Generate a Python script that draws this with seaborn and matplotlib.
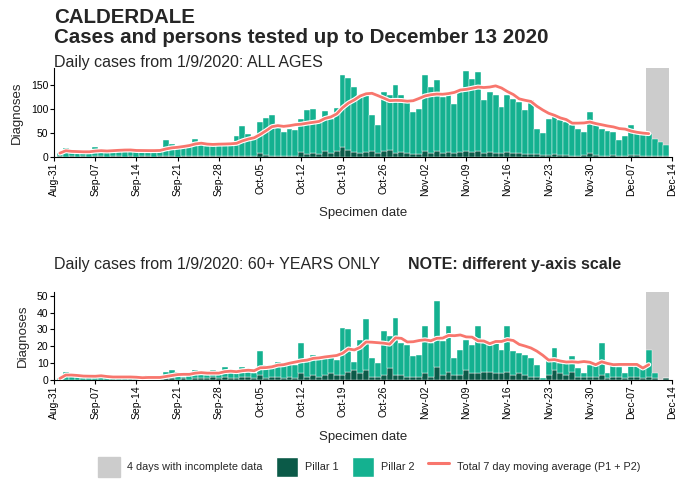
import matplotlib
matplotlib.use("Agg")
import matplotlib.pyplot as plt
import matplotlib.dates as mdates
import matplotlib.patheffects as pe
from matplotlib.patches import Patch
from matplotlib.lines import Line2D
import numpy as np
import pandas as pd
import seaborn as sns

# daily values 1 Sep 2020 .. 13 Dec 2020
dates = pd.date_range("2020-09-01", "2020-12-13", freq="D")

# all ages: total (P1 + P2) and pillar 1
all_total = [
    8, 18, 9, 10, 9, 11, 21, 14, 13, 14, 15, 13, 12, 14, 13, 12, 14, 17, 35, 28,
    22, 25, 26, 37, 28, 22, 23, 26, 27, 29,
    44, 64, 48, 42, 73, 82, 88, 60, 53, 58, 57, 80, 97, 100, 73, 96, 80, 101, 171, 165,
    146, 130, 128, 87, 67, 135, 128, 150, 128, 118, 94,
    100, 171, 146, 160, 125, 128, 111, 135, 180, 163, 177, 118, 135, 128, 104, 128, 120, 114, 97,
    118, 59, 49, 80, 90, 76, 73, 66, 59, 52, 94,
    67, 59, 55, 52, 35, 44, 66, 49, 47, 47, 37, 31, 25,
]
all_p1 = [
    1, 0, 1, 0, 1, 0, 2, 1, 0, 1, 1, 0, 1, 0, 1, 1, 0, 1, 2, 1,
    0, 3, 2, 2, 3, 1, 2, 2, 2, 3,
    2, 3, 2, 2, 9, 4, 3, 2, 2, 3, 2, 10, 7, 8, 6, 12, 8, 13, 21, 14,
    10, 8, 10, 12, 8, 12, 14, 9, 10, 8, 7,
    6, 12, 8, 12, 8, 10, 8, 10, 12, 11, 13, 8, 10, 9, 8, 10, 9, 8, 7,
    7, 6, 4, 5, 7, 5, 4, 3, 3, 4, 8,
    4, 3, 3, 4, 2, 3, 5, 4, 3, 2, 2, 1, 1,
]

# 60+ years: total (P1 + P2) and pillar 1
old_total = [
    1, 5, 3, 2, 1, 2, 2, 3, 2, 1, 2, 1, 2, 1, 1, 3, 1, 2, 5, 6,
    5, 2, 3, 6, 4, 3, 6, 5, 8, 5,
    4, 8, 5, 4, 17, 9, 8, 11, 10, 11, 9, 22, 12, 15, 13, 14, 14, 12, 31, 30,
    11, 24, 36, 13, 10, 29, 26, 37, 22, 21, 14,
    15, 32, 22, 47, 23, 32, 13, 18, 24, 21, 32, 22, 21, 22, 18, 32, 17, 16, 15,
    13, 9, 1, 12, 19, 10, 11, 14, 7, 4, 9,
    9, 22, 4, 9, 8, 4, 9, 9, 7, 18, 4, 0, 1,
]
old_p1 = [
    0, 0, 0, 0, 0, 0, 0, 0, 0, 0, 0, 0, 0, 0, 0, 0, 0, 0, 1, 1,
    0, 1, 0, 1, 1, 1, 2, 1, 2, 1,
    1, 2, 2, 1, 3, 1, 2, 2, 1, 2, 1, 4, 2, 3, 2, 3, 4, 3, 3, 5,
    6, 4, 6, 2, 2, 3, 7, 3, 3, 2, 2,
    2, 4, 2, 8, 3, 5, 3, 3, 6, 4, 4, 5, 5, 4, 4, 5, 3, 4, 3,
    2, 2, 0, 3, 6, 4, 3, 5, 2, 2, 2,
    2, 3, 1, 2, 2, 1, 2, 2, 1, 2, 1, 0, 1,
]

ma_end = pd.Timestamp("2020-12-10")
incomplete = (pd.Timestamp("2020-12-10"), pd.Timestamp("2020-12-13"))
week_ticks = pd.date_range("2020-08-31", "2020-12-14", freq="7D")

DARK = "#0b5a48"
TEAL = "#14b190"
RED = "#f8766d"
GREY = "#cccccc"

sns.set_theme(style="ticks", rc={"axes.edgecolor": "black", "xtick.color": "black",
                                 "ytick.color": "black"})
plt.rcParams["font.family"] = ["Liberation Sans", "DejaVu Sans"]


def panel(ax, total, p1, ymax, ystep):
    total = np.array(total, dtype=float)
    p1 = np.array(p1, dtype=float)
    p2 = total - p1
    half = pd.Timedelta(hours=12)
    ax.axvspan(incomplete[0] - half, incomplete[1] + half, color=GREY, lw=0, zorder=0)
    ax.bar(dates, p1, width=1, color=DARK, edgecolor="white", linewidth=0.3, zorder=2)
    ax.bar(dates, p2, bottom=p1, width=1, color=TEAL, edgecolor="white",
           linewidth=0.3, zorder=2)
    ma = pd.Series(total, index=dates).rolling(7, min_periods=1).mean()
    df = pd.DataFrame({"date": dates, "ma": ma.values})
    df = df[df["date"] <= ma_end]
    sns.lineplot(data=df, x="date", y="ma", ax=ax, color=RED, lw=2.0, legend=False,
                 zorder=3,
                 path_effects=[pe.Stroke(linewidth=3.6, foreground="white"), pe.Normal()])
    ax.set_xlim(week_ticks[0], week_ticks[-1])
    ax.set_ylim(0, ymax)
    ax.set_yticks(np.arange(0, ymax, ystep))
    ax.set_xticks(week_ticks)
    ax.xaxis.set_major_formatter(mdates.DateFormatter("%b-%d"))
    ax.tick_params(axis="x", labelrotation=90, labelsize=7.5, length=3, width=0.8, pad=1)
    ax.tick_params(axis="y", labelsize=7.5, length=3, width=0.8, pad=1)
    ax.set_xlabel("Specimen date", fontsize=9.5, labelpad=8)
    ax.set_ylabel("Diagnoses", fontsize=9.5, labelpad=6)
    sns.despine(ax=ax)
    for s in ("left", "bottom"):
        ax.spines[s].set_linewidth(0.8)


fig = plt.figure(figsize=(6.75, 4.83), dpi=100)
ax1 = fig.add_axes([0.080, 0.675, 0.916, 0.184])
ax2 = fig.add_axes([0.080, 0.213, 0.916, 0.182])

panel(ax1, all_total, all_p1, 185, 50)
panel(ax2, old_total, old_p1, 52, 10)

fig.text(0.080, 1 - 8 / 483, "CALDERDALE", fontsize=14.8, fontweight="bold", va="top")
fig.text(0.080, 1 - 28 / 483, "Cases and persons tested up to December 13 2020",
         fontsize=14.8, fontweight="bold", va="top")
fig.text(0.080, 1 - 62 / 483, "Daily cases from 1/9/2020: ALL AGES", fontsize=11.5,
         va="center")
fig.text(0.080, 1 - 265 / 483, "Daily cases from 1/9/2020: 60+ YEARS ONLY", fontsize=11.5,
         va="center")
fig.text(408 / 675, 1 - 265 / 483, "NOTE: different y-axis scale", fontsize=11.5,
         fontweight="bold", va="center")

handles = [
    Patch(facecolor=GREY, edgecolor=GREY),
    Patch(facecolor=DARK, edgecolor="white"),
    Patch(facecolor=TEAL, edgecolor="white"),
    Line2D([], [], color=RED, lw=2.2),
]
labels = ["4 days with incomplete data", "Pillar 1", "Pillar 2",
          "Total 7 day moving average (P1 + P2)"]
fig.legend(handles, labels, loc="center", bbox_to_anchor=(0.547, 1 - 467 / 483), ncol=4,
           frameon=False, fontsize=7.8, handlelength=2.0, handleheight=2.6,
           columnspacing=1.2, handletextpad=0.7)

fig.savefig("out.png", dpi=100)
